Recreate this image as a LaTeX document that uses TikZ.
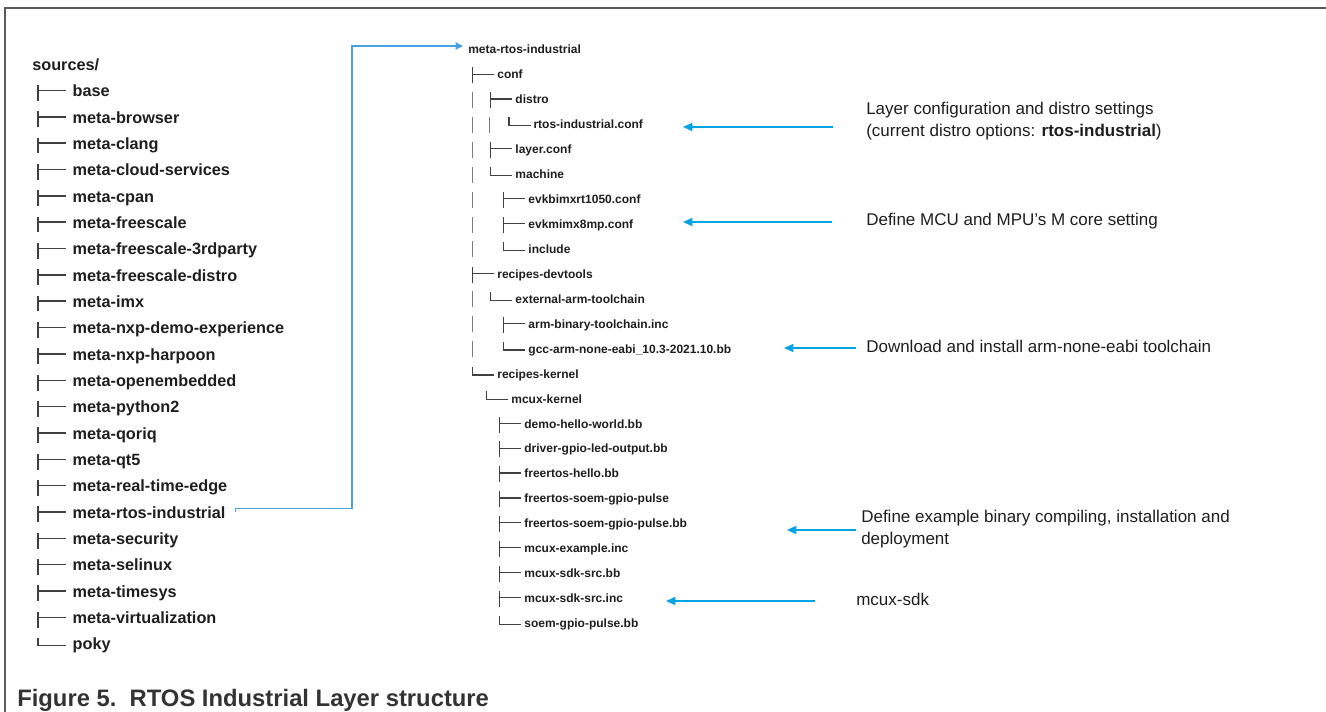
\documentclass[tikz,border=0pt]{standalone}
\usepackage{fontspec}
\setmainfont{Liberation Sans}
\usetikzlibrary{positioning,arrows.meta}

\definecolor{calloutblue}{RGB}{0,163,230}
\definecolor{linkblue}{RGB}{72,160,225}
\definecolor{glyph}{RGB}{64,64,64}
\definecolor{pipe}{RGB}{125,125,125}
\definecolor{ink}{RGB}{30,30,30}
\definecolor{captiongray}{RGB}{51,51,51}
\definecolor{framegray}{RGB}{90,90,90}

\newdimen\pxu \pxu=0.75pt
\newcommand{\gap}[1]{\hspace*{#1\pxu}}
\newcommand{\ltee}{{\color{glyph}\rule[-4\pxu]{1.4\pxu}{15.7\pxu}\rule[5.6\pxu]{27\pxu}{1.4\pxu}}\gap{7}}
\newcommand{\lell}{{\color{glyph}\rule[3.6\pxu]{1.4\pxu}{8.1\pxu}\rule[3.6\pxu]{27\pxu}{1.4\pxu}}\gap{7}}
\newcommand{\stee}{{\color{glyph}\rule[-4.5\pxu]{1.1\pxu}{16\pxu}\rule[4.3\pxu]{21\pxu}{1.1\pxu}}\gap{3}}
\newcommand{\sell}{{\color{glyph}\rule[2.6\pxu]{1.1\pxu}{9\pxu}\rule[2.6\pxu]{21\pxu}{1.1\pxu}}\gap{3}}
\newcommand{\spipe}{{\color{pipe}\rule[-4\pxu]{1.1\pxu}{16\pxu}}}

\tikzset{
  leftitem/.style={anchor=base west, inner sep=0pt, text=ink, font=\fontsize{12.2}{14}\selectfont\bfseries},
  rightitem/.style={anchor=base west, inner sep=0pt, text=ink, font=\fontsize{9}{11}\selectfont\bfseries},
  note/.style={anchor=base west, inner sep=0pt, align=left, text=ink, font=\fontsize{12.75}{16.8}\selectfont},
  callout/.style={draw=calloutblue, line width=1.1pt, -{Triangle[length=7pt,width=6pt]}},
  linkline/.style={draw=linkblue, line width=0.9pt, -{Triangle[length=5.5pt,width=5.5pt]}}
}

\begin{document}
\begin{tikzpicture}[x=0.75pt, y=-0.75pt]
\useasboundingbox (0,0) rectangle (1326,712);
\draw[framegray, line width=1.1pt] (5,712) -- (5,8) -- (1326,8);

\begin{scope}[node distance=19.75pt]
  \node (src) [leftitem] at (32,70.5) {sources/};
  \node (base) [below=of src.base west, leftitem] {\gap{5}\ltee base};
  \node (browser) [below=of base.base west, leftitem] {\gap{5}\ltee meta-browser};
  \node (clang) [below=of browser.base west, leftitem] {\gap{5}\ltee meta-clang};
  \node (cloud) [below=of clang.base west, leftitem] {\gap{5}\ltee meta-cloud-services};
  \node (cpan) [below=of cloud.base west, leftitem] {\gap{5}\ltee meta-cpan};
  \node (fsl) [below=of cpan.base west, leftitem] {\gap{5}\ltee meta-freescale};
  \node (fsl3rd) [below=of fsl.base west, leftitem] {\gap{5}\ltee meta-freescale-3rdparty};
  \node (fsldistro) [below=of fsl3rd.base west, leftitem] {\gap{5}\ltee meta-freescale-distro};
  \node (imx) [below=of fsldistro.base west, leftitem] {\gap{5}\ltee meta-imx};
  \node (nxpdemo) [below=of imx.base west, leftitem] {\gap{5}\ltee meta-nxp-demo-experience};
  \node (harpoon) [below=of nxpdemo.base west, leftitem] {\gap{5}\ltee meta-nxp-harpoon};
  \node (oe) [below=of harpoon.base west, leftitem] {\gap{5}\ltee meta-openembedded};
  \node (python2) [below=of oe.base west, leftitem] {\gap{5}\ltee meta-python2};
  \node (qoriq) [below=of python2.base west, leftitem] {\gap{5}\ltee meta-qoriq};
  \node (qt5) [below=of qoriq.base west, leftitem] {\gap{5}\ltee meta-qt5};
  \node (rte) [below=of qt5.base west, leftitem] {\gap{5}\ltee meta-real-time-edge};
  \node (lrtos) [below=of rte.base west, leftitem] {\gap{5}\ltee meta-rtos-industrial};
  \node (security) [below=of lrtos.base west, leftitem] {\gap{5}\ltee meta-security};
  \node (selinux) [below=of security.base west, leftitem] {\gap{5}\ltee meta-selinux};
  \node (timesys) [below=of selinux.base west, leftitem] {\gap{5}\ltee meta-timesys};
  \node (virt) [below=of timesys.base west, leftitem] {\gap{5}\ltee meta-virtualization};
  \node (poky) [below=of virt.base west, leftitem] {\gap{5}\lell poky};
\end{scope}

\begin{scope}[node distance=18.7pt]
  \node (mri) [rightitem] at (468,54) {meta-rtos-industrial};
  \node (conf) [below=of mri.base west, rightitem] {\gap{4}\stee conf};
  \node (distro) [below=of conf.base west, rightitem] {\gap{4}\spipe\gap{17}\stee distro};
  \node (rtosconf) [below=of distro.base west, rightitem] {\gap{4}\spipe\gap{16}\spipe\gap{18}\sell rtos-industrial.conf};
  \node (layerconf) [below=of rtosconf.base west, rightitem] {\gap{4}\spipe\gap{17}\stee layer.conf};
  \node (machine) [below=of layerconf.base west, rightitem] {\gap{4}\spipe\gap{17}\sell machine};
  \node (evkrt) [below=of machine.base west, rightitem] {\gap{4}\spipe\gap{30}\stee evkbimxrt1050.conf};
  \node (evkmp) [below=of evkrt.base west, rightitem] {\gap{4}\spipe\gap{30}\stee evkmimx8mp.conf};
  \node (include) [below=of evkmp.base west, rightitem] {\gap{4}\spipe\gap{30}\sell include};
  \node (devtools) [below=of include.base west, rightitem] {\gap{4}\stee recipes-devtools};
  \node (armchain) [below=of devtools.base west, rightitem] {\gap{4}\spipe\gap{17}\sell external-arm-toolchain};
  \node (armbin) [below=of armchain.base west, rightitem] {\gap{4}\spipe\gap{30}\stee arm-binary-toolchain.inc};
  \node (gcc) [below=of armbin.base west, rightitem] {\gap{4}\spipe\gap{30}\sell gcc-arm-none-eabi\_10.3-2021.10.bb};
  \node (kernel) [below=of gcc.base west, rightitem] {\gap{4}\sell recipes-kernel};
  \node (mcuxk) [below=of kernel.base west, rightitem] {\gap{18}\sell mcux-kernel};
  \node (demo) [below=of mcuxk.base west, rightitem] {\gap{31}\stee demo-hello-world.bb};
  \node (gpioled) [below=of demo.base west, rightitem] {\gap{31}\stee driver-gpio-led-output.bb};
  \node (frhello) [below=of gpioled.base west, rightitem] {\gap{31}\stee freertos-hello.bb};
  \node (frsoem) [below=of frhello.base west, rightitem] {\gap{31}\stee freertos-soem-gpio-pulse};
  \node (frsoembb) [below=of frsoem.base west, rightitem] {\gap{31}\stee freertos-soem-gpio-pulse.bb};
  \node (mcuxex) [below=of frsoembb.base west, rightitem] {\gap{31}\stee mcux-example.inc};
  \node (sdkbb) [below=of mcuxex.base west, rightitem] {\gap{31}\stee mcux-sdk-src.bb};
  \node (sdkinc) [below=of sdkbb.base west, rightitem] {\gap{31}\stee mcux-sdk-src.inc};
  \node (soembb) [below=of sdkinc.base west, rightitem] {\gap{31}\sell soem-gpio-pulse.bb};
\end{scope}

\node (notelayer) [note] at (866,136.7) {Layer configuration and distro settings\\(current distro options: \textbf{rtos-industrial})};
\node (notemcu) [note] at (866,225.7) {Define MCU and MPU’s M core setting};
\node (notetool) [note] at (866,353) {Download and install arm-none-eabi toolchain};
\node (noteexample) [note] at (861,544.5) {Define example binary compiling, installation and\\deployment};
\node (notesdk) [note] at (856,605) {mcux-sdk};

\coordinate (tiplayer) at (683,127);
\coordinate (tipmcu) at (683,222);
\coordinate (tiptool) at (784,348);
\coordinate (tipexample) at (787,530);
\coordinate (tipsdk) at (666,601);
\coordinate (bend) at (352,46);

\draw[callout, shorten <=24.75pt] (notelayer.west |- tiplayer) -- (tiplayer);
\draw[callout, shorten <=25.5pt] (notemcu.west |- tipmcu) -- (tipmcu);
\draw[callout, shorten <=7.5pt] (notetool.west |- tiptool) -- (tiptool);
\draw[callout, shorten <=3.75pt] (noteexample.west |- tipexample) -- (tipexample);
\draw[callout, shorten <=30.75pt] (notesdk.west |- tipsdk) -- (tipsdk);
\draw[linkline, shorten >=3.75pt] (lrtos.east) ++(10,-2) -- ++(0,-4) -| (bend) -- (bend -| mri.west);

\node (caption) [anchor=base west, inner sep=0pt, text=captiongray, font=\fontsize{17.85}{20}\selectfont\bfseries] at (17,706) {Figure 5.\ \ RTOS Industrial Layer structure};
\end{tikzpicture}
\end{document}
